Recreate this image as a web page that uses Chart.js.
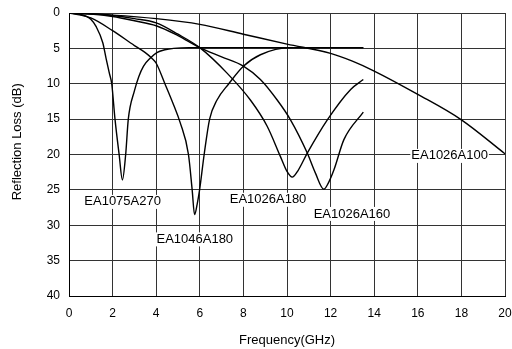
<!DOCTYPE html>
<html>
<head>
<meta charset="utf-8">
<script src="https://cdn.jsdelivr.net/npm/chart.js@4.4.0/dist/chart.umd.min.js"></script>
<style>
  html, body { margin: 0; padding: 0; background: #fff; }
</style>
</head>
<body>
<canvas id="chart" width="512" height="349"></canvas>
<script>
// Reflection loss curves (frequency in GHz, loss in dB)
const freq1075A270 = [0, 0.5, 0.78, 1.0, 1.24, 1.55, 1.7, 1.85, 1.96, 2.11, 2.3, 2.45, 2.6, 2.72, 3.0, 3.2, 3.42, 3.72, 4.03, 4.4, 4.8, 5.5, 13.5];
const loss1075A270 = [0, 0.2, 0.45, 0.9, 1.9, 4.2, 6.4, 8.5, 10, 15, 20, 23.6, 20, 15, 11, 9, 7.5, 6.4, 5.6, 5.2, 5.0, 4.9, 4.9];

const freq1046A180 = [0, 1, 2, 3.0, 3.5, 3.8, 4.0, 4.4, 4.8, 5.1, 5.48, 5.65, 5.76, 5.88, 5.99, 6.2, 6.45, 6.79, 7.33, 8.01, 8.78, 10.16, 11, 13.5];
const loss1046A180 = [0, 0.7, 2.5, 4.6, 5.6, 6.4, 7.1, 10, 13, 15.5, 20, 25, 28.5, 27, 25, 20, 15, 12.3, 10, 7.5, 5.9, 4.9, 4.9, 4.9];

const freq1026A180 = [0, 1, 2, 3, 4, 5, 6.0, 7.25, 8.32, 9.09, 9.7, 10.0, 10.24, 10.5, 10.93, 11.85, 12.92, 13.5];
const loss1026A180 = [0, 0.1, 0.35, 0.8, 1.4, 3.0, 4.9, 8.5, 12.3, 16.0, 20.3, 22.4, 23.2, 22.3, 19.8, 15.1, 10.8, 9.4];

const freq1026A160 = [0, 1, 2, 3, 4, 5, 6.0, 7, 8.0, 8.78, 9.55, 10.16, 10.93, 11.3, 11.69, 11.9, 12.15, 12.61, 13.5];
const loss1026A160 = [0, 0.15, 0.5, 1.1, 1.8, 3.2, 4.9, 6.2, 7.5, 9.4, 12.3, 15.1, 19.8, 22.6, 24.9, 24.0, 22.2, 17.9, 14.0];

const freq1026A100 = [0, 2, 4, 6, 8, 10, 12, 13, 14, 16, 18, 20];
const loss1026A100 = [0, 0.3, 0.8, 1.6, 3.0, 4.4, 5.7, 6.8, 8.2, 11.5, 15.1, 19.9];

// curve names and where their tags sit (GHz, dB)
const seriesNames = ["EA1075A270", "EA1046A180", "EA1026A180", "EA1026A160", "EA1026A100"];
const tagFreq = [2.46, 5.77, 9.13, 12.98, 17.46];
const tagLoss = [26.7, 32.0, 26.4, 28.4, 20.2];

const xTicks = [0, 2, 4, 6, 8, 10, 12, 14, 16, 18, 20];
const yTicks = [0, 5, 10, 15, 20, 25, 30, 35, 40];

function toPoints(xs, ys) {
  return xs.map((x, i) => ({ x: x, y: ys[i] }));
}

const allFreq = [freq1075A270, freq1046A180, freq1026A180, freq1026A160, freq1026A100];
const allLoss = [loss1075A270, loss1046A180, loss1026A180, loss1026A160, loss1026A100];

const datasets = seriesNames.map((name, i) => ({
  label: name,
  data: toPoints(allFreq[i], allLoss[i]),
  borderColor: "#000",
  borderWidth: 1.4,
  pointRadius: 0,
  fill: false,
  cubicInterpolationMode: "monotone",
}));

const fontFamily = '"Liberation Sans", Arial, sans-serif';

// curve name tags with a white box behind them, plus the y axis title
const tagPlugin = {
  id: "tags",
  afterDatasetsDraw(chart) {
    const ctx = chart.ctx;
    const xs = chart.scales.x;
    const ys = chart.scales.y;
    ctx.save();
    ctx.font = "13px " + fontFamily;
    ctx.textAlign = "center";
    ctx.textBaseline = "middle";
    seriesNames.forEach((name, i) => {
      const px = xs.getPixelForValue(tagFreq[i]);
      const py = ys.getPixelForValue(tagLoss[i]);
      const w = ctx.measureText(name).width + 2;
      ctx.fillStyle = "#fff";
      ctx.fillRect(px - w / 2, py - 7, w, 14);
      ctx.fillStyle = "#000";
      ctx.fillText(name, px, py);
    });

    // y title sits a little above the middle of the plot
    ctx.translate(17, ys.getPixelForValue(18.2));
    ctx.rotate(-Math.PI / 2);
    ctx.fillText("Reflection Loss (dB)", 0, 0);
    ctx.restore();
  },
};

const font = { family: fontFamily, size: 12 };

new Chart(document.getElementById("chart"), {
  type: "line",
  data: { datasets: datasets },
  options: {
    responsive: false,
    animation: false,
    layout: { padding: { top: 13, right: 7, left: 0, bottom: 0 } },
    plugins: {
      legend: { display: false },
      tooltip: { enabled: false },
    },
    scales: {
      x: {
        type: "linear",
        min: 0,
        max: 20,
        afterFit: (s) => {
          s.height = 53;
          s.paddingLeft = 0;
          s.paddingRight = 0;
        },
        afterBuildTicks: (s) => { s.ticks = xTicks.map((v) => ({ value: v })); },
        grid: { color: "#333", lineWidth: 1, drawTicks: false },
        border: { color: "#000", width: 1 },
        ticks: { color: "#000", font: font, padding: 10, maxRotation: 0 },
        title: {
          display: true,
          text: "Frequency(GHz)",
          color: "#000",
          font: { family: fontFamily, size: 13 },
          padding: { top: 0, bottom: 1 },
        },
      },
      y: {
        type: "linear",
        reverse: true,
        min: 0,
        max: 40,
        afterFit: (s) => {
          s.width = 69;
          s.paddingTop = 0;
          s.paddingBottom = 0;
        },
        afterBuildTicks: (s) => { s.ticks = yTicks.map((v) => ({ value: v })); },
        grid: { color: "#333", lineWidth: 1, drawTicks: false },
        border: { color: "#000", width: 1 },
        ticks: { color: "#000", font: font, padding: 9 },
      },
    },
  },
  plugins: [tagPlugin],
});
</script>
</body>
</html>
